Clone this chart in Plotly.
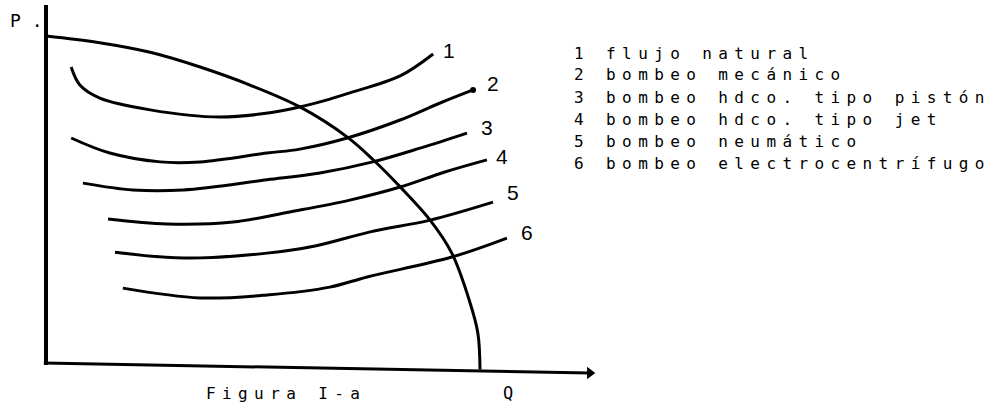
import plotly.graph_objects as go

# ---------------- data (normalized Q / P units) ----------------
# IPR curve (well inflow)
ipr_q = [0, 12, 24, 35.5, 47, 58.5, 69.5, 75.5, 81.5, 88.5, 93.5, 97.5, 99.5, 100]
ipr_p = [100, 98, 95, 90.5, 85, 78.3, 69, 62, 54, 43.7, 33.6, 19.3, 9.2, -2]

# lift-method curves
q1 = [5.8, 7.8, 12.4, 24.0, 40.1, 51.6, 58.5, 65.4, 70.0, 81.6, 89.2]
p1 = [90.5, 85.0, 81.0, 77.4, 75.2, 76.5, 78.3, 80.7, 82.6, 87.8, 94.5]

q2 = [5.8, 14.7, 26.3, 35.5, 50.9, 58.5, 69.4, 81.6, 90.8, 98.4]
p2 = [68.8, 64.2, 61.5, 61.5, 64.2, 65.4, 68.8, 74.3, 79.5, 83.5]

q3 = [8.5, 20.0, 31.6, 50.9, 63.1, 75.3, 86.2, 97.0]
p3 = [55.0, 52.9, 52.9, 56.0, 58.1, 61.5, 65.7, 70.3]

q4 = [14.3, 27.9, 43.1, 56.2, 70.0, 81.6, 91.9, 101.6]
p4 = [44.0, 42.5, 43.1, 46.2, 49.8, 53.8, 58.4, 62.1]

q5 = [15.9, 31.6, 50.9, 62.0, 74.7, 88.5, 103.0]
p5 = [33.9, 32.1, 33.6, 35.8, 40.1, 43.7, 49.2]

q6 = [17.7, 35.5, 50.9, 65.4, 74.0, 93.5, 106.2]
p6 = [22.9, 19.9, 20.8, 23.2, 26.3, 32.4, 38.2]

# hand-drawn axes frame
yaxis_q = [0, 0]
yaxis_p = [109.5, -0.6]
xaxis_q = [-0.5, 125.3]
xaxis_p = [0, -3.06]

curve_labels = ["1", "2", "3", "4", "5", "6"]
legend_texts = [
    "flujo natural",
    "bombeo mecánico",
    "bombeo hdco. tipo pistón",
    "bombeo hdco. tipo jet",
    "bombeo neumático",
    "bombeo electrocentrífugo",
]
caption = "Figura I-a"
x_title = "Q"
y_title = "P ."

# ---------------- figure ----------------
W, H = 993, 406
BLACK = "#000000"
fig = go.Figure()

fig.add_trace(go.Scatter(x=yaxis_q, y=yaxis_p, mode="lines",
                         line=dict(color=BLACK, width=4), hoverinfo="skip"))
fig.add_trace(go.Scatter(x=xaxis_q, y=xaxis_p, mode="lines",
                         line=dict(color=BLACK, width=3), hoverinfo="skip"))
fig.add_trace(go.Scatter(x=[xaxis_q[-1]], y=[xaxis_p[-1]], mode="markers",
                         marker=dict(symbol="triangle-right", size=11, color=BLACK),
                         hoverinfo="skip"))

fig.add_trace(go.Scatter(x=ipr_q, y=ipr_p, mode="lines", line_shape="spline",
                         line=dict(color=BLACK, width=3), hoverinfo="skip"))

series = [(q1, p1), (q2, p2), (q3, p3), (q4, p4), (q5, p5), (q6, p6)]
for qs, ps in series:
    fig.add_trace(go.Scatter(x=qs, y=ps, mode="lines", line_shape="spline",
                             line=dict(color=BLACK, width=3, smoothing=1.0),
                             hoverinfo="skip"))
# small dot at end of curve 2
fig.add_trace(go.Scatter(x=[q2[-1]], y=[p2[-1]], mode="markers",
                         marker=dict(size=6, color=BLACK), hoverinfo="skip"))

# curve number labels (layout positions)
label_pos = [(92.9, 95.7), (103.0, 85.6), (101.6, 71.9), (105.1, 63.0), (107.6, 52.0), (110.8, 39.8)]
annotations = []
for lab, (lq, lp) in zip(curve_labels, label_pos):
    annotations.append(dict(x=lq, y=lp, xref="x", yref="y", text=lab, showarrow=False,
                            font=dict(family="Liberation Sans", size=21, color=BLACK)))

MONO = "DejaVu Sans Mono"
FS = 16
LS = 6.4  # letter spacing px to mimic dot-matrix printer spacing


def spaced(t, ls=LS):
    return f'<span style="letter-spacing:{ls}px">{t}</span>'


for i, (lab, txt) in enumerate(zip(curve_labels, legend_texts)):
    py = 53 + 22 * i
    annotations.append(dict(x=572 / W, y=1 - py / H, xref="paper", yref="paper",
                            xanchor="left", yanchor="middle", showarrow=False,
                            text=spaced(f"{lab} {txt}"),
                            font=dict(family=MONO, size=FS, color=BLACK)))

annotations.append(dict(x=204 / W, y=1 - 393 / H, xref="paper", yref="paper",
                        xanchor="left", yanchor="middle", showarrow=False,
                        text=spaced(caption), font=dict(family=MONO, size=FS, color=BLACK)))
annotations.append(dict(x=501 / W, y=1 - 393 / H, xref="paper", yref="paper",
                        xanchor="left", yanchor="middle", showarrow=False,
                        text=x_title, font=dict(family=MONO, size=17, color=BLACK)))
annotations.append(dict(x=8 / W, y=1 - 20 / H, xref="paper", yref="paper",
                        xanchor="left", yanchor="middle", showarrow=False,
                        text=y_title, font=dict(family=MONO, size=18, color=BLACK)))

fig.update_layout(
    width=W, height=H,
    margin=dict(l=0, r=0, t=0, b=0),
    paper_bgcolor="white", plot_bgcolor="white",
    showlegend=False,
    annotations=annotations,
    xaxis=dict(range=[-10.6, 218.2], visible=False, fixedrange=True),
    yaxis=dict(range=[-13.15, 111.0], visible=False, fixedrange=True),
)

fig.write_html(
    "out.html",
    config={"displayModeBar": False},
    post_script="document.body.style.margin='0';document.body.style.overflow='hidden';",
)
